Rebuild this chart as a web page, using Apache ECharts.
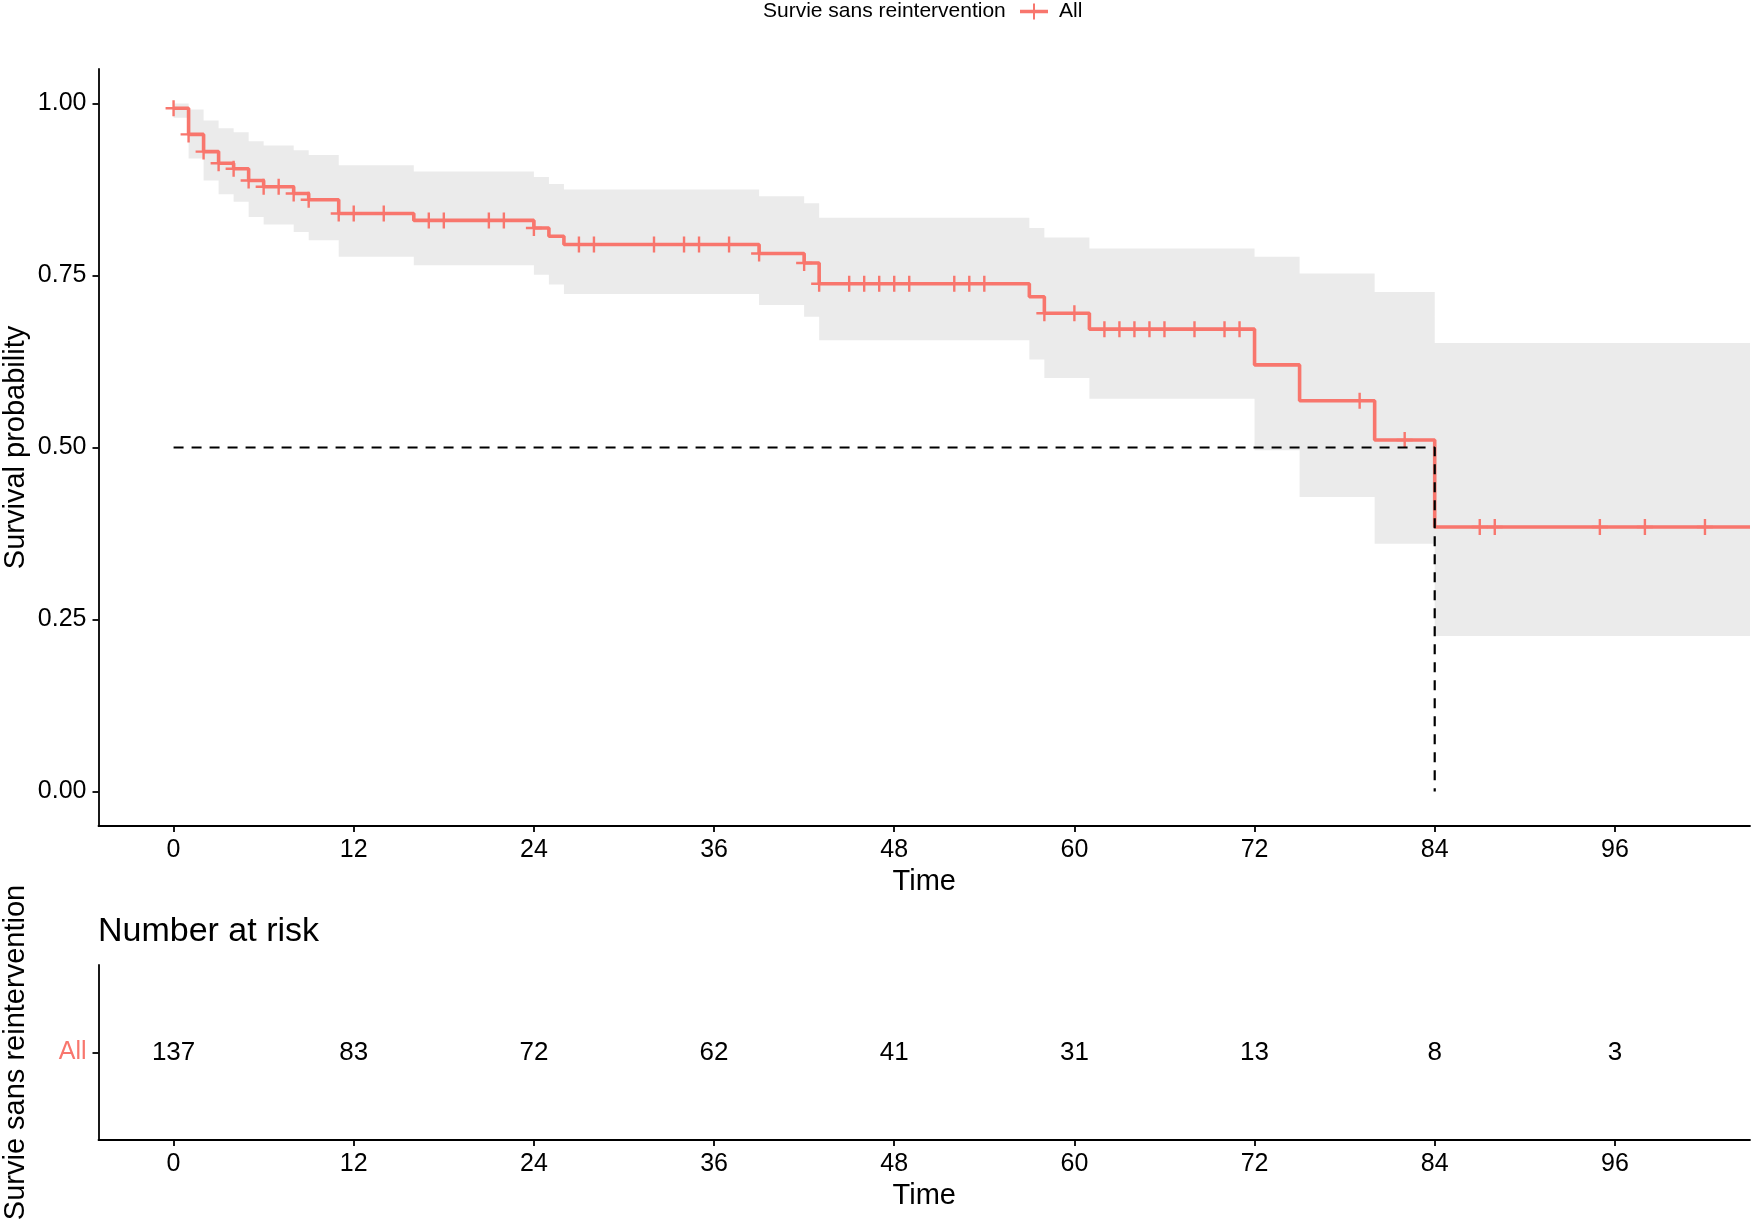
<!DOCTYPE html>
<html>
<head>
<meta charset="utf-8">
<script src="https://cdn.jsdelivr.net/npm/echarts@6/dist/echarts.min.js"></script>
<style>
  html, body { margin: 0; padding: 0; background: #ffffff; }
  #chart { width: 1755px; height: 1224px; }
</style>
</head>
<body>
<div id="chart"></div>
<script>
// ---- Data ----
const kmTime  = [0, 1, 2, 3, 4, 5, 6, 8, 9, 11, 16, 24, 25, 26, 39, 42, 43, 57, 58, 61, 72, 75, 80, 84, 105];
const kmSurv  = [0.993, 0.955, 0.930, 0.913, 0.905, 0.888, 0.879, 0.869, 0.860, 0.840, 0.830, 0.819, 0.807, 0.795, 0.782, 0.768, 0.738, 0.719, 0.695, 0.672, 0.620, 0.568, 0.511, 0.3845, 0.3845];
const ciUpper = [1.000, 0.991, 0.975, 0.964, 0.958, 0.945, 0.939, 0.932, 0.925, 0.910, 0.901, 0.893, 0.883, 0.875, 0.865, 0.855, 0.834, 0.819, 0.805, 0.789, 0.777, 0.753, 0.726, 0.652, 0.652];
const ciLower = [0.979, 0.920, 0.888, 0.868, 0.857, 0.835, 0.824, 0.813, 0.801, 0.777, 0.765, 0.751, 0.737, 0.723, 0.707, 0.690, 0.656, 0.628, 0.601, 0.571, 0.496, 0.428, 0.360, 0.226, 0.226];
const censorTime = [0, 1, 2, 3, 4, 5, 6, 7, 8, 9, 11, 12, 14, 17, 18, 21, 22, 24, 27, 28, 32, 34, 35, 37, 39, 42, 43, 45, 46, 47, 48, 49, 52, 53, 54, 58, 60, 62, 63, 64, 65, 66, 68, 70, 71, 79, 82, 87, 88, 95, 98, 102];
const medianTime = 84;
const medianSurv = 0.5;
const riskTime  = [0, 12, 24, 36, 48, 60, 72, 84, 96];
const riskCount = [137, 83, 72, 62, 41, 31, 13, 8, 3];
const xTicks = [0, 12, 24, 36, 48, 60, 72, 84, 96];
const yTicks = [0, 0.25, 0.5, 0.75, 1];
const strataName = 'All';
const legendTitle = 'Survie sans reintervention';

// ---- Helpers (built from the arrays above) ----
function survAt(t) {
  let s = kmSurv[0];
  for (let i = 0; i < kmTime.length; i++) { if (kmTime[i] <= t) s = kmSurv[i]; }
  return s;
}
const kmData = kmTime.map((t, i) => [t, kmSurv[i]]);
const censorData = censorTime.map(t => [t, survAt(t)]);
const riskData = riskTime.map((t, i) => [t, 0, riskCount[i]]);
const medianData = [[0, medianSurv], [medianTime, medianSurv], [medianTime, 0]];

const RED = '#F8766D';
const FONT = 'Liberation Sans, Arial, Helvetica, sans-serif';
const plusPath = 'path://M8.5,0 L11.5,0 L11.5,20 L8.5,20 Z M0,8.5 L20,8.5 L20,11.5 L0,11.5 Z';
const legendIcon = 'path://M0,6.3 L28,6.3 L28,9.7 L0,9.7 Z M13,0 L15,0 L15,16 L13,16 Z';

const axisLineStyle = { show: true, onZero: false, lineStyle: { color: '#000', width: 1.8 } };
const axisTickStyle = { show: true, length: 6, lineStyle: { color: '#000', width: 1.8 } };

function xAxisCfg(gridIndex) {
  return {
    type: 'value', gridIndex: gridIndex, min: -5, max: 105,
    name: 'Time', nameLocation: 'middle', nameGap: 41, nameMoveOverlap: false,
    nameTextStyle: { fontSize: 29, color: '#000', fontFamily: FONT },
    axisLine: axisLineStyle,
    axisTick: Object.assign({ customValues: xTicks }, axisTickStyle),
    axisLabel: { customValues: xTicks, fontSize: 25, color: '#000', fontFamily: FONT, margin: 12 },
    splitLine: { show: false }
  };
}

const chart = echarts.init(document.getElementById('chart'), null, { renderer: 'canvas' });
chart.setOption({
  animation: false,
  backgroundColor: '#ffffff',
  textStyle: { fontFamily: FONT },
  title: [
    { text: legendTitle, left: 763, top: 1, padding: 0,
      textStyle: { fontSize: 21, fontWeight: 'normal', color: '#000', fontFamily: FONT } },
    { text: 'Number at risk', left: 98, top: 915, padding: 0,
      textStyle: { fontSize: 34, fontWeight: 'normal', color: '#000', fontFamily: FONT } }
  ],
  legend: {
    data: [{ name: strataName, icon: legendIcon }],
    left: 1020, top: 1, padding: 0,
    itemWidth: 28, itemHeight: 16,
    textStyle: { fontSize: 21, color: '#000', fontFamily: FONT, padding: [0, 0, 0, 6] },
    selectedMode: false
  },
  grid: [
    { left: 98.5, right: 5, top: 69, height: 757, containLabel: false, outerBoundsMode: 'none' },
    { left: 98.5, right: 5, top: 965, height: 175, containLabel: false, outerBoundsMode: 'none' }
  ],
  xAxis: [xAxisCfg(0), xAxisCfg(1)],
  yAxis: [
    {
      type: 'value', gridIndex: 0, min: -0.05, max: 1.05,
      name: 'Survival probability', nameLocation: 'middle', nameGap: 68, nameMoveOverlap: false,
      nameTextStyle: { fontSize: 29, color: '#000', fontFamily: FONT },
      axisLine: axisLineStyle,
      axisTick: Object.assign({ customValues: yTicks }, axisTickStyle),
      axisLabel: { customValues: yTicks, fontSize: 25, color: '#000', fontFamily: FONT, margin: 12,
                   formatter: v => v.toFixed(2) },
      splitLine: { show: false }
    },
    {
      type: 'category', gridIndex: 1, data: [strataName], boundaryGap: true,
      name: legendTitle, nameLocation: 'middle', nameGap: 68, nameMoveOverlap: false,
      nameTextStyle: { fontSize: 29, color: '#000', fontFamily: FONT },
      axisLine: axisLineStyle,
      axisTick: Object.assign({ alignWithLabel: true }, axisTickStyle),
      axisLabel: { fontSize: 25, color: RED, fontFamily: FONT, margin: 12 },
      splitLine: { show: false }
    }
  ],
  series: [
    {
      type: 'custom', name: 'ci', xAxisIndex: 0, yAxisIndex: 0, z: 1,
      silent: true,
      data: [[0, 0]],
      renderItem: function (params, api) {
        const pts = [];
        for (let i = 0; i < kmTime.length - 1; i++) {
          pts.push(api.coord([kmTime[i], ciUpper[i]]));
          pts.push(api.coord([kmTime[i + 1], ciUpper[i]]));
        }
        for (let i = kmTime.length - 2; i >= 0; i--) {
          pts.push(api.coord([kmTime[i + 1], ciLower[i]]));
          pts.push(api.coord([kmTime[i], ciLower[i]]));
        }
        return { type: 'polygon', shape: { points: pts }, style: { fill: '#EBEBEB' } };
      }
    },
    {
      type: 'line', name: strataName, xAxisIndex: 0, yAxisIndex: 0, z: 3,
      step: 'end', data: kmData, showSymbol: false, symbol: 'none',
      color: RED,
      lineStyle: { color: RED, width: 3.6 },
      silent: true
    },
    {
      type: 'scatter', name: 'censor', xAxisIndex: 0, yAxisIndex: 0, z: 4,
      data: censorData, symbol: plusPath, symbolSize: 16,
      itemStyle: { color: RED, opacity: 1 },
      silent: true
    },
    {
      type: 'line', name: 'median', xAxisIndex: 0, yAxisIndex: 0, z: 5,
      data: medianData, showSymbol: false, symbol: 'none',
      lineStyle: { color: '#000', width: 2.2, type: [10, 8] },
      silent: true
    },
    {
      type: 'scatter', name: 'risk', xAxisIndex: 1, yAxisIndex: 1,
      data: riskData, symbolSize: 1,
      itemStyle: { color: 'rgba(0,0,0,0)', opacity: 1 },
      label: { show: true, position: 'inside', fontSize: 26, color: '#000', fontFamily: FONT,
               formatter: p => String(p.value[2]) },
      silent: true
    }
  ]
});
</script>
</body>
</html>
